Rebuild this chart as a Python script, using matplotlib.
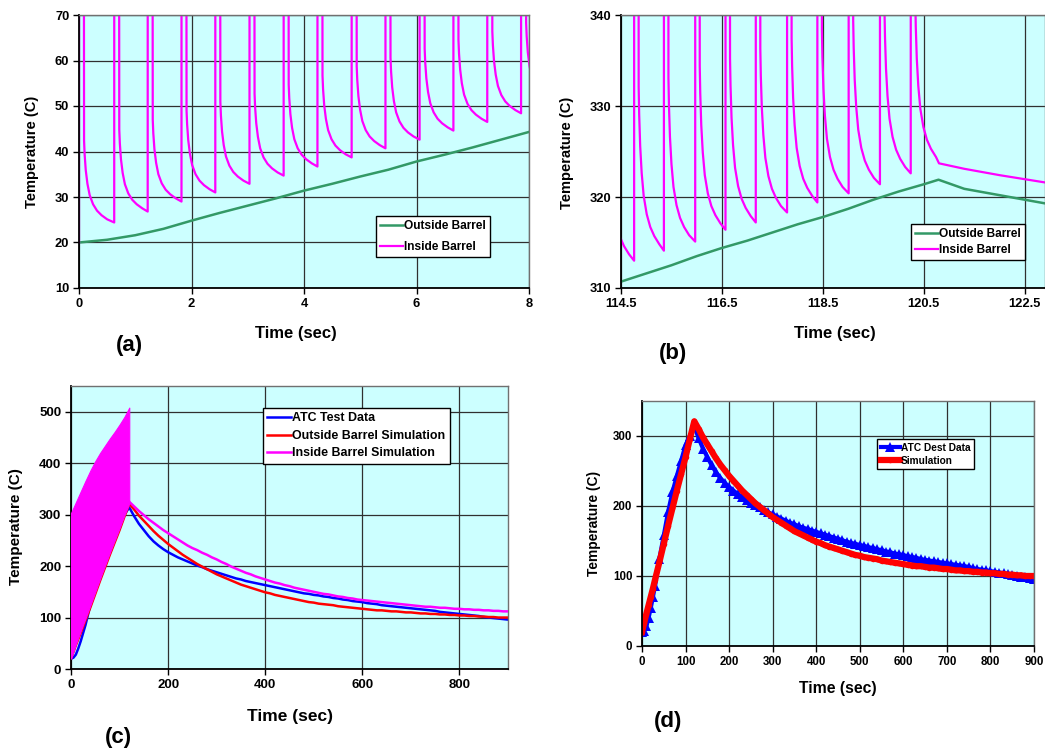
import matplotlib.pyplot as plt

plt.rcParams['font.family'] = ['Liberation Sans', 'DejaVu Sans']
plt.rcParams['font.weight'] = 'bold'
plt.rcParams['axes.labelweight'] = 'bold'

# ---------------- (a) first 8 s of firing ----------------
a_shot_t = [0.0, 0.626, 1.221, 1.822, 2.423, 3.031, 3.638, 4.239, 4.847,
            5.448, 6.055, 6.656, 7.258, 7.859]
a_shot_min = [24.4, 26.8, 29.0, 31.0, 32.9, 34.7, 36.7, 38.7, 40.7,
              42.6, 44.6, 46.5, 48.4, 50.3]
a_out_t = [0, 0.5, 1, 1.5, 2, 2.5, 3, 3.5, 4, 4.5, 5, 5.5, 6, 6.5, 7, 7.5, 8]
a_out_v = [20.0, 20.6, 21.6, 23.0, 24.8, 26.5, 28.1, 29.7, 31.4, 32.9,
           34.5, 36.0, 37.8, 39.3, 40.9, 42.6, 44.3]

# ---------------- (b) end of the 120 s burst ----------------
b_shot_t = [114.16, 114.76, 115.35, 115.97, 116.57, 117.17, 117.79,
            118.39, 119.01, 119.63, 120.24]
b_shot_min = [313.0, 314.1, 315.1, 316.4, 317.2, 318.3, 319.4, 320.4,
              321.4, 322.6, 323.7]
b_tail_t = [121.3, 122.0, 122.9]
b_tail_v = [323.1, 322.4, 321.6]
b_out_t = [114.5, 115.0, 115.5, 116.0, 116.5, 117.0, 117.5, 118.0, 118.5,
           119.0, 119.5, 120.0, 120.5, 120.79, 121.3, 122.0, 122.9]
b_out_v = [310.7, 311.6, 312.5, 313.5, 314.4, 315.2, 316.1, 317.0, 317.8,
           318.7, 319.7, 320.6, 321.4, 321.9, 320.9, 320.2, 319.3]

# temperature shape after one shot (sec after shot, deg above the next low)
shot_dt = [0.003, 0.075, 0.09, 0.10, 0.12, 0.15, 0.19, 0.25, 0.32, 0.40, 0.50]
shot_rise = [250, 240, 18, 15, 11.5, 8.5, 6.0, 4.0, 2.6, 1.6, 0.7]

# ---------------- (c) / (d) full 900 s ----------------
t_cd = [0, 5, 10, 15, 20, 25] + list(range(30, 901, 10))
atc_v = [20, 22, 28, 40, 54, 70, 86, 125, 158, 192, 220, 243, 265, 287, 300, 314,
         297, 282, 270, 258, 248, 240, 233, 227, 222, 217, 213, 209, 205, 201,
         198, 194, 191, 188, 185, 182, 179, 176, 174, 171, 169, 167, 165, 163,
         161, 159, 157, 155, 153, 151, 149, 147, 146, 144, 143, 141, 140, 138,
         137, 135, 134, 132, 131, 130, 128, 127, 126, 124, 123, 122, 121, 120,
         119, 118, 117, 116, 115, 114, 113, 111, 110, 109, 108, 107, 106, 105,
         104, 103, 101, 100, 99, 98, 97, 96]
out_sim_v = [20, 33, 46, 58, 70, 82, 95, 120, 146, 172, 197, 222, 246, 270, 296, 321,
             310, 298, 288, 278, 268, 259, 251, 243, 236, 229, 222, 216, 210, 204,
             199, 194, 189, 184, 180, 176, 172, 168, 164, 161, 158, 155, 152, 149,
             147, 144, 142, 140, 138, 136, 134, 132, 130, 129, 127, 126, 125, 124,
             122, 121, 120, 119, 118, 117, 116, 115, 114, 114, 113, 112, 112, 111,
             110, 110, 109, 108, 108, 107, 107, 106, 106, 105, 105, 104, 104, 103,
             103, 102, 102, 101, 101, 100, 100, 100]
in_cool_t = list(range(120, 901, 10))
in_cool_v = [325, 316, 307, 299, 291, 284, 277, 270, 264, 258, 252, 246, 240, 235,
             231, 226, 222, 217, 213, 208, 204, 199, 195, 191, 187, 184, 180, 177,
             174, 171, 168, 166, 163, 161, 158, 156, 154, 152, 150, 148, 146, 145,
             143, 141, 140, 138, 137, 135, 134, 133, 132, 131, 130, 129, 128, 127,
             126, 125, 124, 123, 122, 121, 121, 120, 119, 119, 118, 117, 117, 116,
             116, 115, 115, 114, 114, 113, 113, 112, 112]
band_t = [0, 10, 20, 30, 40, 50, 60, 70, 80, 90, 100, 110, 120]
band_lo = [20, 48, 74, 99, 124, 150, 176, 201, 226, 250, 274, 299, 322]
band_hi = [303, 324, 345, 366, 386, 404, 420, 434, 448, 461, 475, 490, 508]

GREEN = '#339966'
MAG = '#FF00FF'
BG = '#CCFFFF'
W, H = 1045, 751


def inside_curve(shots, lows, t_end, t0=None, v0=None):
    t, v = [], []
    if t0 is not None:
        t.append(t0)
        v.append(v0)
    for i, s in enumerate(shots):
        e = shots[i + 1] if i + 1 < len(shots) else t_end
        for dt, rise in zip(shot_dt, shot_rise):
            if s + dt < e:
                t.append(s + dt)
                v.append(lows[i] + rise)
        t.append(e)
        v.append(lows[i])
    return t, v


def box(l, t, r, b):
    return [l / W, 1 - b / H, (r - l) / W, (b - t) / H]


def style(ax, fs):
    ax.set_facecolor(BG)
    ax.grid(True, color='#303030', lw=0.9)
    ax.set_axisbelow(True)
    ax.tick_params(direction='out', length=4, width=1, labelsize=fs, pad=3)
    for s in ['left', 'bottom']:
        ax.spines[s].set_color('black')
        ax.spines[s].set_linewidth(1.3)
    for s in ['top', 'right']:
        ax.spines[s].set_color('#707070')
        ax.spines[s].set_linewidth(1.0)


def labels(ax, xfs, yfs, xpos, ypos):
    ax.set_xlabel('Time (sec)', fontsize=xfs)
    ax.set_ylabel('Temperature (C)', fontsize=yfs)
    ax.xaxis.set_label_coords(xpos[0] / W, 1 - xpos[1] / H, transform=fig.transFigure)
    ax.yaxis.set_label_coords(ypos[0] / W, 1 - ypos[1] / H, transform=fig.transFigure)
    ax.xaxis.label.set_va('center')
    ax.yaxis.label.set_va('center')


def legend(ax, x, y, fs, **kw):
    leg = ax.legend(loc='upper left', bbox_to_anchor=(x / W, 1 - y / H),
                    bbox_transform=fig.transFigure, fontsize=fs, fancybox=False,
                    framealpha=1, edgecolor='black', borderpad=0.35,
                    handlelength=1.9, handletextpad=0.1, borderaxespad=0, **kw)
    leg.get_frame().set_linewidth(1.0)


fig = plt.figure(figsize=(10.45, 7.51), dpi=100)

# (a)
ax = fig.add_axes(box(79, 15, 529, 288))
style(ax, 9.3)
ta, va = inside_curve(a_shot_t, a_shot_min, 8.4, 0.0, 20.0)
ax.plot(a_out_t, a_out_v, color=GREEN, lw=1.8, label='Outside Barrel')
ax.plot(ta, va, color=MAG, lw=1.6, label='Inside Barrel')
ax.set_xlim(0, 8)
ax.set_ylim(10, 70)
ax.set_xticks([0, 2, 4, 6, 8])
ax.set_yticks([10, 20, 30, 40, 50, 60, 70])
labels(ax, 12, 10.5, (296, 333), (32, 152))
legend(ax, 376, 216, 8.6, labelspacing=0.75)
fig.text(129 / W, 1 - 346 / H, '(a)', fontsize=16, ha='center', va='center')

# (b)
ax = fig.add_axes(box(621, 15, 1045, 288))
style(ax, 9.3)
tb, vb = inside_curve(b_shot_t, b_shot_min, 120.80)
tb = tb + b_tail_t
vb = vb + b_tail_v
ax.plot(b_out_t, b_out_v, color=GREEN, lw=1.8, label='Outside Barrel')
ax.plot(tb, vb, color=MAG, lw=1.6, label='Inside Barrel')
ax.set_xlim(114.5, 122.9)
ax.set_ylim(310, 340)
ax.set_xticks([114.5, 116.5, 118.5, 120.5, 122.5])
ax.set_xticklabels(['114.5', '116.5', '118.5', '120.5', '122.5'])
ax.set_yticks([310, 320, 330, 340])
labels(ax, 12, 10.5, (835, 333), (567, 153))
legend(ax, 911, 224, 8.6, labelspacing=0.3)
fig.text(673 / W, 1 - 354 / H, '(b)', fontsize=16, ha='center', va='center')

# (c)
ax = fig.add_axes(box(71, 386, 508, 669))
style(ax, 9.5)
ax.plot(t_cd, atc_v, color='blue', lw=1.8, label='ATC Test Data')
ax.plot(t_cd, out_sim_v, color='red', lw=1.8, label='Outside Barrel Simulation')
ax.fill_between(band_t, band_lo, band_hi, color=MAG, lw=0.8, edgecolor=MAG, zorder=3)
ax.plot(in_cool_t, in_cool_v, color=MAG, lw=1.8, label='Inside Barrel Simulation', zorder=3)
ax.set_xlim(0, 900)
ax.set_ylim(0, 550)
ax.set_xticks([0, 200, 400, 600, 800])
ax.set_yticks([0, 100, 200, 300, 400, 500])
labels(ax, 12.5, 11, (290, 716), (16, 527))
legend(ax, 263, 408, 8.9, labelspacing=0.45)
fig.text(118 / W, 1 - 738 / H, '(c)', fontsize=16, ha='center', va='center')

# (d)
ax = fig.add_axes(box(642, 401, 1034, 646))
style(ax, 8.3)
ax.plot(t_cd, atc_v, color='blue', lw=3, marker='^', ms=7, mew=0,
        label='ATC Dest Data')
ax.plot(t_cd, out_sim_v, color='red', lw=4.5, marker='o', ms=4, mew=0,
        label='Simulation')
ax.set_xlim(0, 900)
ax.set_ylim(0, 350)
ax.set_xticks(list(range(0, 901, 100)))
ax.set_yticks([0, 100, 200, 300])
labels(ax, 11.3, 9.9, (838, 688), (594, 524))
legend(ax, 877, 439, 7.3, labelspacing=0.3)
fig.text(668 / W, 1 - 721 / H, '(d)', fontsize=16, ha='center', va='center')

fig.savefig('out.png', dpi=100)
